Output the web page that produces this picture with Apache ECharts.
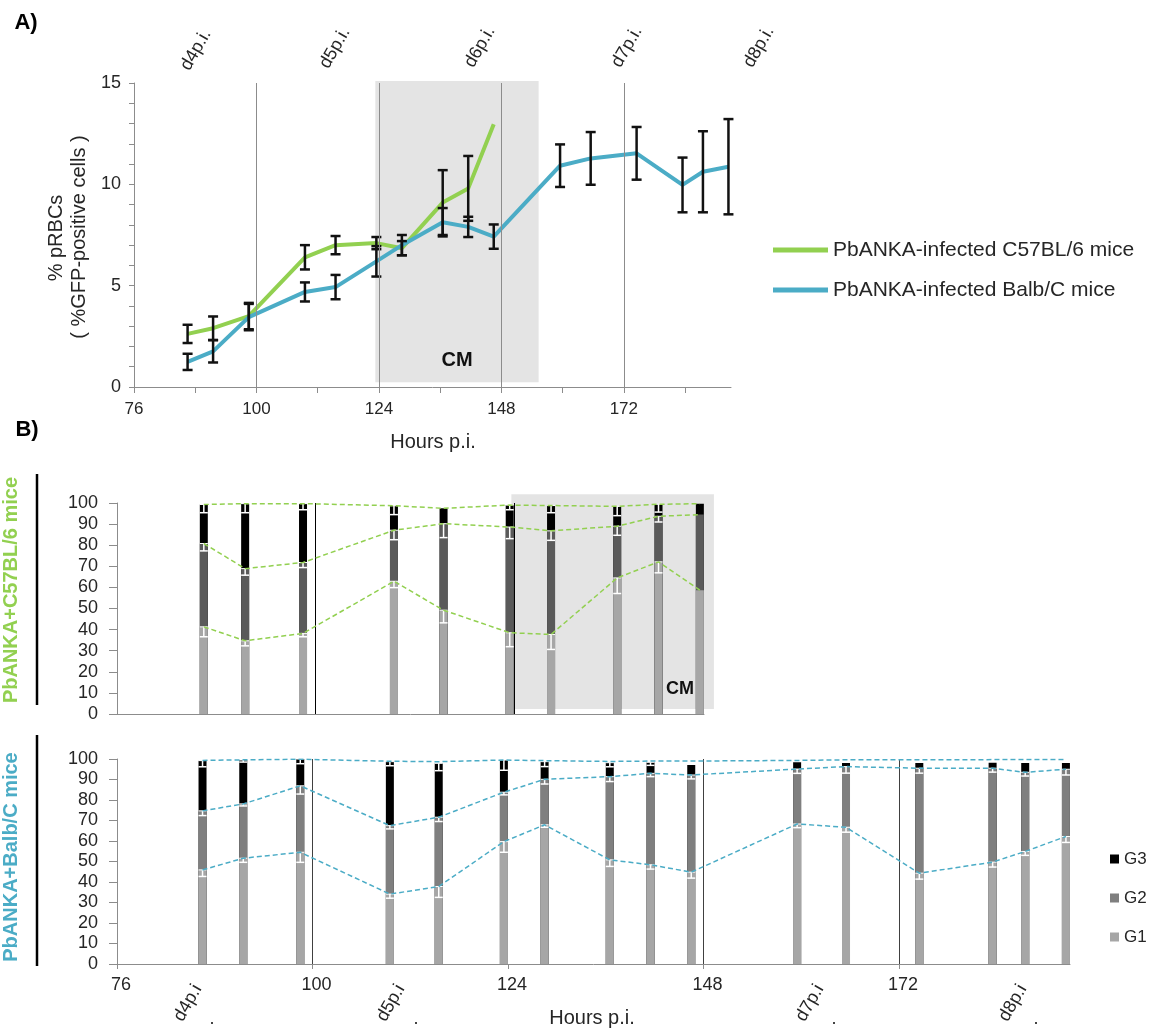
<!DOCTYPE html>
<html>
<head>
<meta charset="utf-8">
<title>pRBCs and cell cycle stages</title>
<script src="https://cdn.jsdelivr.net/npm/echarts@6/dist/echarts.min.js"></script>
<style>
    html, body { margin: 0; padding: 0; background: #fff; }
    #chart { width: 1149px; height: 1031px; }
</style>
</head>
<body>
<div id="chart"></div>
<script>
(function () {
    'use strict';

    //hours p.i. of every sample, C57BL/6 mice only have the first 10
    var hours = [86.5, 91.5, 98.5, 109.5, 115.5, 123.5, 128.5, 136.5, 141.5, 146.5, 159.5, 165.5, 174.5, 183.5, 187.5, 192.5];
    var c57Hours = hours.slice(0, 10);

    //A) % pRBCs, mean and error
    var c57Mean = [2.62, 2.9, 3.5, 6.4, 7.0, 7.1, 6.85, 9.1, 9.8, 12.97];
    var c57Err = [0.45, 0.58, 0.65, 0.6, 0.45, 0.3, 0.35, 1.6, 1.6, 0];
    var balbMean = [1.24, 1.76, 3.45, 4.69, 4.93, 6.2, 7.0, 8.13, 7.9, 7.42, 10.92, 11.28, 11.53, 9.97, 10.62, 10.87];
    var balbErr = [0.4, 0.55, 0.65, 0.47, 0.6, 0.75, 0.5, 0.7, 0.5, 0.6, 1.05, 1.3, 1.3, 1.35, 2.0, 2.35];

    //B) G1 / G2 / G3 stages (%) for PbANKA + C57BL/6
    var c57G1 = [41.3, 34.7, 38.2, 62.9, 49.2, 38.5, 37.7, 64.5, 72.1, 58.7];
    var c57G2 = [39.5, 34.2, 33.6, 24.2, 41.0, 50.1, 49.1, 24.5, 21.6, 35.8];
    var c57G3 = [18.5, 30.8, 27.9, 11.6, 7.3, 10.4, 12.0, 9.4, 5.7, 5.2];
    var c57ErrG1 = [4.7, 2.4, 1.6, 3.0, 6.0, 6.6, 7.1, 7.4, 5.2, 0];
    var c57ErrG2 = [3.5, 3.1, 2.4, 4.5, 6.6, 5.5, 4.5, 4.3, 2.7, 0];
    var c57ErrG3 = [3.9, 4.3, 2.9, 4.2, 0, 2.2, 3.4, 4.4, 3.7, 0];

    //B) G1 / G2 / G3 stages (%) for PbANKA + Balb/C
    var balbG1 = [45.9, 51.6, 54.5, 34.1, 37.8, 59.7, 67.9, 50.8, 48.4, 44.8, 68.3, 66.7, 44.3, 49.7, 54.9, 62.2];
    var balbG2 = [28.8, 26.5, 32.4, 33.4, 33.8, 24.1, 22.2, 40.6, 44.6, 47.4, 26.8, 29.6, 51.2, 45.8, 38.6, 32.8];
    var balbG3 = [24.5, 21.4, 13.1, 31.2, 26.3, 15.7, 8.6, 6.8, 5.4, 4.9, 3.3, 1.7, 2.5, 2.7, 4.5, 3.0];
    var balbTop = [99.3, 99.6, 99.9, 98.9, 98.7, 99.5, 99.2, 98.8, 99.0, 99.0, 99.3, 99.6, 99.6, 99.7, 99.7, 99.7];
    var balbErrG1 = [3.2, 2.0, 4.9, 2.0, 5.3, 5.2, 1.2, 3.2, 2.1, 2.9, 1.8, 2.4, 2.9, 2.4, 1.9, 2.9];
    var balbErrG2 = [2.3, 1.0, 4.0, 1.6, 2.1, 1.3, 2.3, 2.4, 1.6, 1.9, 2.1, 3.2, 2.4, 1.9, 1.8, 2.8];
    var balbErrG3 = [3.0, 1.0, 2.3, 2.0, 3.6, 5.0, 2.4, 2.0, 1.5, 0, 0, 0, 0, 0, 0, 0];

    //axes
    var hourTicksA = [76, 88, 100, 112, 124, 136, 148, 160, 172, 184];
    var hourTicksB = [76, 100, 124, 148, 172];
    var hourLabels = [76, 100, 124, 148, 172];
    var dayLinesA = [100, 124, 148, 172];
    var dayLinesC57 = [100, 124];
    var dayLinesBalb = [100, 148, 172];

    //CM period [from, to, bottom, top]
    var cmA = [123.3, 155.3, 0.23, 15.1];
    var cmC57 = [123.7, 148.2, 2.4, 104.1];

    var legendA = ['PbANKA-infected C57BL/6 mice', 'PbANKA-infected Balb/C mice'];

    var FONT = "'Liberation Sans', Arial, sans-serif";
    var GREEN = '#92d050';
    var BLUE = '#4bacc6';
    var TXT = '#262626';
    var AXIS = '#8c8c8c';

    function zip(xs, ys) {
        return xs.map(function (x, i) { return [x, ys[i]]; });
    }

    function sum() {
        var lists = Array.prototype.slice.call(arguments);
        return lists[0].map(function (v, i) {
            return lists.reduce(function (s, l) { return s + l[i]; }, 0);
        });
    }

    var c57Cum2 = sum(c57G1, c57G2);
    var c57Tot = sum(c57G1, c57G2, c57G3);
    var balbCum2 = sum(balbG1, balbG2);
    var balbTot = sum(balbG1, balbG2, balbG3);

    //black error bars for panel A
    function blackErr(params, api) {
        var x = api.value(0), m = api.value(1), e = api.value(2);
        if (!e) {
            return;
        }
        var hi = api.coord([x, m + e]);
        var lo = api.coord([x, m - e]);
        var st = {stroke: '#111', lineWidth: 2.5};
        return {
            type: 'group',
            children: [
                {type: 'line', shape: {x1: hi[0], y1: hi[1], x2: lo[0], y2: lo[1]}, style: st},
                {type: 'line', shape: {x1: hi[0] - 5, y1: hi[1], x2: hi[0] + 5, y2: hi[1]}, style: st},
                {type: 'line', shape: {x1: lo[0] - 5, y1: lo[1], x2: lo[0] + 5, y2: lo[1]}, style: st}
            ]
        };
    }

    //white minus error bars inside the stacked bars
    function whiteErr(params, api) {
        var x = api.value(0), v = api.value(1), e = api.value(2);
        if (!e) {
            return;
        }
        var top = api.coord([x, v]);
        var bot = api.coord([x, v - e]);
        var st = {stroke: '#fff', lineWidth: 1.5};
        return {
            type: 'group',
            children: [
                {type: 'line', shape: {x1: top[0], y1: top[1], x2: bot[0], y2: bot[1]}, style: st},
                {type: 'line', shape: {x1: bot[0] - 4, y1: bot[1], x2: bot[0] + 4, y2: bot[1]}, style: st},
                {type: 'line', shape: {x1: top[0] - 4, y1: top[1], x2: top[0] + 4, y2: top[1]}, style: {stroke: '#fff', lineWidth: 1}}
            ]
        };
    }

    function cmBox(params, api) {
        var p0 = api.coord([api.value(0), api.value(3)]);
        var p1 = api.coord([api.value(1), api.value(2)]);
        return {
            type: 'rect',
            shape: {x: p0[0], y: p0[1], width: p1[0] - p0[0], height: p1[1] - p0[1]},
            style: {fill: '#e4e4e4'}
        };
    }

    function errData(hs, vals, errs) {
        var out = [];
        hs.forEach(function (h, i) {
            vals.forEach(function (v, k) {
                out.push([h, v[i], errs[k][i]]);
            });
        });
        return out;
    }

    function vLines(list, color) {
        return {
            silent: true,
            symbol: 'none',
            label: {show: false},
            lineStyle: {color: color, width: 1, type: 'solid'},
            data: list.map(function (h) { return {xAxis: h}; })
        };
    }

    //stacked look: the total, G1+G2 and G1 bars are drawn over each other
    function stageBars(prefix, idx, hs, tops, colors) {
        var names = ['G3', 'G2', 'G1'];
        return tops.map(function (l, k) {
            return {
                type: 'bar',
                name: prefix + names[k],
                xAxisIndex: idx,
                yAxisIndex: idx,
                barWidth: 8,
                barGap: '-100%',
                itemStyle: {color: colors[k]},
                data: zip(hs, l),
                z: 2
            };
        });
    }

    function dashed(idx, hs, vals, color) {
        return {
            type: 'line',
            xAxisIndex: idx,
            yAxisIndex: idx,
            data: zip(hs, vals),
            symbol: 'none',
            silent: true,
            lineStyle: {color: color, width: 1.5, type: [5, 3]},
            z: 5
        };
    }

    function txt(x, y, text, size, extra) {
        var el = {
            type: 'text', x: x, y: y, z: 100,
            style: {text: text, fontSize: size, fontFamily: FONT, fill: TXT, align: 'center', verticalAlign: 'middle'}
        };
        if (extra) {
            Object.keys(extra).forEach(function (k) {
                if (k === 'rotation') {
                    el.rotation = extra[k];
                } else {
                    el.style[k] = extra[k];
                }
            });
        }
        return el;
    }

    var ROT = Math.PI / 3;
    var UP = Math.PI / 2;

    var option = {
        animation: false,
        backgroundColor: '#fff',
        grid: [
            {left: 134, top: 83, width: 597, height: 304},
            {left: 117, top: 503, width: 587, height: 211},
            {left: 117, top: 759, width: 953, height: 205}
        ],
        xAxis: [
            {
                type: 'value', gridIndex: 0, min: 76, max: 193,
                splitLine: {show: false},
                axisLine: {lineStyle: {color: AXIS}},
                axisTick: {length: 6, lineStyle: {color: AXIS}, customValues: hourTicksA},
                axisLabel: {color: TXT, fontSize: 17, fontFamily: FONT, margin: 14, customValues: hourLabels}
            },
            {
                type: 'value', gridIndex: 1, min: 76, max: 147,
                splitLine: {show: false},
                axisLine: {lineStyle: {color: AXIS}},
                axisTick: {show: false},
                axisLabel: {show: false}
            },
            {
                type: 'value', gridIndex: 2, min: 76, max: 193,
                splitLine: {show: false},
                axisLine: {lineStyle: {color: AXIS}},
                axisTick: {length: 5, lineStyle: {color: AXIS}, customValues: hourTicksB},
                axisLabel: {color: TXT, fontSize: 18, fontFamily: FONT, margin: 12, padding: [0, 0, 0, 8], customValues: hourLabels}
            }
        ],
        yAxis: [
            {
                type: 'value', gridIndex: 0, min: 0, max: 15, interval: 1,
                splitLine: {show: false},
                axisLine: {show: true, lineStyle: {color: AXIS}},
                axisTick: {show: true, length: 5, lineStyle: {color: AXIS}},
                axisLabel: {
                    color: TXT, fontSize: 18, fontFamily: FONT, margin: 13,
                    formatter: function (v) { return v % 5 === 0 ? v : ''; }
                }
            },
            {
                type: 'value', gridIndex: 1, min: 0, max: 100, interval: 10,
                splitLine: {show: false},
                axisLine: {show: true, lineStyle: {color: AXIS}},
                axisTick: {show: true, length: 8, lineStyle: {color: AXIS}},
                axisLabel: {color: TXT, fontSize: 18, fontFamily: FONT, margin: 19}
            },
            {
                type: 'value', gridIndex: 2, min: 0, max: 100, interval: 10,
                splitLine: {show: false},
                axisLine: {show: true, lineStyle: {color: AXIS}},
                axisTick: {show: true, length: 8, lineStyle: {color: AXIS}},
                axisLabel: {color: TXT, fontSize: 18, fontFamily: FONT, margin: 19}
            }
        ],
        legend: [
            {
                data: legendA,
                orient: 'vertical',
                left: 773, top: 239, padding: 0,
                icon: 'rect', itemWidth: 55, itemHeight: 5, itemGap: 18,
                selectedMode: false,
                textStyle: {color: TXT, fontSize: 21, fontFamily: FONT, lineHeight: 22}
            },
            {
                data: ['G3', 'G2', 'G1'],
                orient: 'vertical',
                left: 1110, top: 850, padding: 0,
                icon: 'rect', itemWidth: 9, itemHeight: 9, itemGap: 21,
                selectedMode: false,
                textStyle: {color: TXT, fontSize: 17, fontFamily: FONT, lineHeight: 18}
            }
        ],
        graphic: [
            txt(26, 23, 'A)', 22, {fontWeight: 'bold', fill: '#000'}),
            txt(27, 430, 'B)', 22, {fontWeight: 'bold', fill: '#000'}),
            txt(56, 238, '% pRBCs', 20, {rotation: UP}),
            txt(79, 237, '( %GFP-positive cells )', 20, {rotation: UP}),
            txt(433, 442, 'Hours p.i.', 20),
            txt(592, 1018, 'Hours p.i.', 20),
            txt(457, 360, 'CM', 20, {fontWeight: 'bold', fill: '#111'}),
            txt(680, 689, 'CM', 18, {fontWeight: 'bold', fill: '#111'}),
            txt(196, 50, 'd4p.i.', 18, {rotation: ROT}),
            txt(335, 48, 'd5p.i.', 18, {rotation: ROT}),
            txt(480, 47, 'd6p.i.', 18, {rotation: ROT}),
            txt(627, 47, 'd7p.i.', 18, {rotation: ROT}),
            txt(759, 47, 'd8p.i.', 18, {rotation: ROT}),
            txt(188, 1003, 'd4p.i', 18, {rotation: ROT}),
            txt(212, 1019, '.', 18),
            txt(391, 1003, 'd5p.i', 18, {rotation: ROT}),
            txt(416, 1019, '.', 18),
            txt(810, 1003, 'd7p.i', 18, {rotation: ROT}),
            txt(834, 1019, '.', 18),
            txt(1013, 1003, 'd8p.i', 18, {rotation: ROT}),
            txt(1036, 1019, '.', 18),
            txt(11, 590, 'PbANKA+C57BL/6 mice', 20, {rotation: UP, fontWeight: 'bold', fill: GREEN}),
            txt(11, 857, 'PbANKA+Balb/C mice', 20, {rotation: UP, fontWeight: 'bold', fill: BLUE}),
            {type: 'line', z: 100, shape: {x1: 37, y1: 474, x2: 37, y2: 705}, style: {stroke: '#000', lineWidth: 2.5}},
            {type: 'line', z: 100, shape: {x1: 37, y1: 735, x2: 37, y2: 966}, style: {stroke: '#000', lineWidth: 2.5}}
        ],
        series: []
    };

    //---- A) ----
    option.series.push({
        type: 'custom', xAxisIndex: 0, yAxisIndex: 0, silent: true, z: 0,
        renderItem: cmBox, data: [cmA]
    });
    option.series.push({
        type: 'line', name: legendA[0], xAxisIndex: 0, yAxisIndex: 0,
        color: GREEN, symbol: 'none', lineStyle: {width: 4, color: GREEN},
        data: zip(c57Hours, c57Mean), z: 3,
        markLine: vLines(dayLinesA, '#8c8c8c')
    });
    option.series.push({
        type: 'line', name: legendA[1], xAxisIndex: 0, yAxisIndex: 0,
        color: BLUE, symbol: 'none', lineStyle: {width: 4, color: BLUE},
        data: zip(hours, balbMean), z: 3
    });
    option.series.push({
        type: 'custom', xAxisIndex: 0, yAxisIndex: 0, silent: true, z: 4,
        renderItem: blackErr,
        data: c57Hours.map(function (h, i) { return [h, c57Mean[i], c57Err[i]]; })
    });
    option.series.push({
        type: 'custom', xAxisIndex: 0, yAxisIndex: 0, silent: true, z: 4,
        renderItem: blackErr,
        data: hours.map(function (h, i) { return [h, balbMean[i], balbErr[i]]; })
    });

    //---- B) Balb/C (first, so the G legend uses these colours) ----
    option.series = option.series.concat(
        stageBars('', 2, hours, [balbTot, balbCum2, balbG1], ['#000', '#7f7f7f', '#a6a6a6'])
    );
    option.series[option.series.length - 1].markLine = vLines(dayLinesBalb, '#404040');
    option.series.push({
        type: 'custom', xAxisIndex: 2, yAxisIndex: 2, silent: true, z: 4,
        renderItem: whiteErr,
        data: errData(hours, [balbG1, balbCum2, balbTot], [balbErrG1, balbErrG2, balbErrG3])
    });
    option.series.push(dashed(2, hours, balbG1, BLUE));
    option.series.push(dashed(2, hours, balbCum2, BLUE));
    option.series.push(dashed(2, hours, balbTop, BLUE));

    //---- B) C57BL/6 ----
    option.series.push({
        type: 'custom', xAxisIndex: 1, yAxisIndex: 1, silent: true, z: 0,
        renderItem: cmBox, data: [cmC57]
    });
    option.series = option.series.concat(
        stageBars('C57 ', 1, c57Hours, [c57Tot, c57Cum2, c57G1], ['#000', '#5a5a5a', '#a6a6a6'])
    );
    option.series[option.series.length - 1].markLine = vLines(dayLinesC57, '#000');
    option.series.push({
        type: 'custom', xAxisIndex: 1, yAxisIndex: 1, silent: true, z: 4,
        renderItem: whiteErr,
        data: errData(c57Hours, [c57G1, c57Cum2, c57Tot], [c57ErrG1, c57ErrG2, c57ErrG3])
    });
    option.series.push(dashed(1, c57Hours, c57G1, GREEN));
    option.series.push(dashed(1, c57Hours, c57Cum2, GREEN));
    option.series.push(dashed(1, c57Hours, c57Tot, GREEN));

    var myChart = echarts.init(document.getElementById('chart'), null, {renderer: 'canvas'});
    myChart.setOption(option);
})();
</script>
</body>
</html>
